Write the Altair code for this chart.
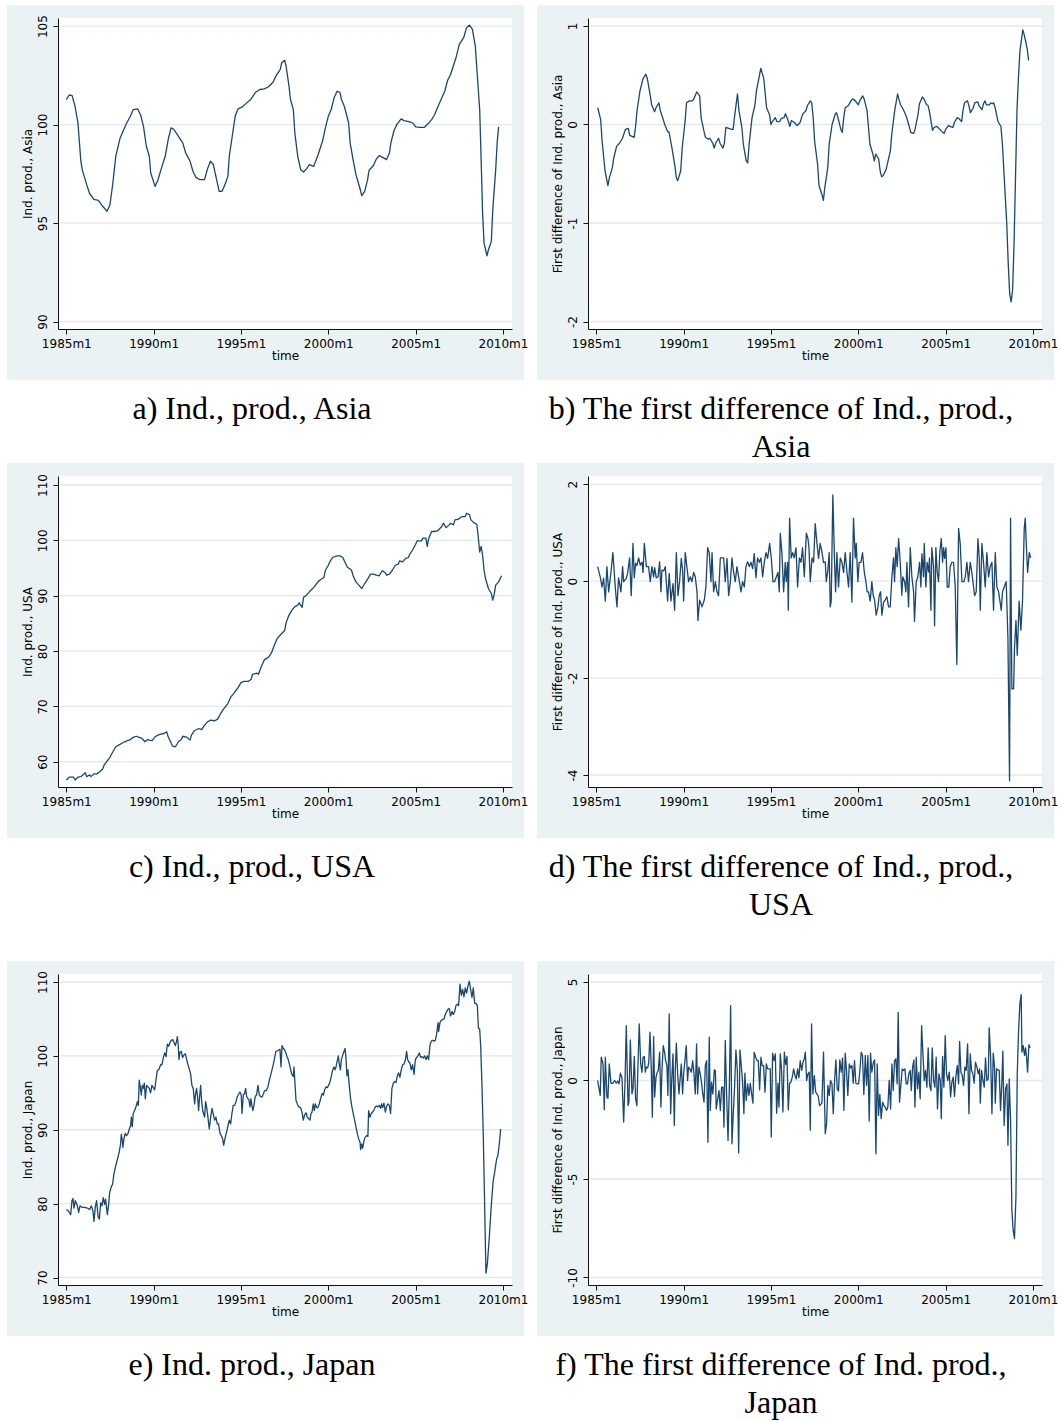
import altair as alt
import pandas as pd

# ---------------------------------------------------------------------------
# Monthly series, month index 0 = 1985m1  (pairs of month, value)
# ---------------------------------------------------------------------------
asia_level = [
    (0, 101.27), (2, 101.5), (4, 101.47), (6, 100.93), (8, 100.08), (10, 98.14), (11, 97.7),
    (14, 96.95), (16, 96.5), (19, 96.2), (22, 96.15), (25, 95.85), (28, 95.6), (30, 95.93),
    (32, 97.03), (34, 98.4), (37, 99.32), (39, 99.66), (41, 100.0), (44, 100.42), (46, 100.76),
    (49, 100.8), (51, 100.5), (53, 99.92), (55, 98.9), (57, 98.4), (58, 97.54), (61, 96.86),
    (63, 97.2), (65, 97.7), (68, 98.4), (70, 99.24), (72, 99.83), (74, 99.75), (77, 99.4),
    (80, 99.07), (82, 98.56), (85, 98.14), (87, 97.63), (89, 97.32), (92, 97.2), (95, 97.2),
    (97, 97.75), (99, 98.14), (101, 97.97), (103, 97.29), (105, 96.61), (107, 96.61),
    (109, 96.95), (111, 97.37), (112, 98.4), (114, 99.4), (116, 100.42), (118, 100.8),
    (121, 100.9), (124, 101.1), (127, 101.3), (130, 101.64), (133, 101.78), (136, 101.81),
    (139, 101.92), (142, 102.15), (144, 102.46), (147, 102.8), (148, 103.14), (150, 103.27),
    (151, 102.97), (153, 101.95), (154, 101.27), (156, 100.76), (157, 99.58), (159, 98.39),
    (161, 97.71), (163, 97.59), (165, 97.75), (167, 97.97), (170, 97.88), (171, 98.08),
    (173, 98.47), (176, 99.15), (178, 99.83), (180, 100.42), (182, 100.76), (184, 101.36),
    (186, 101.69), (188, 101.64), (189, 101.27), (191, 100.93), (194, 100.08), (195, 99.07),
    (197, 98.22), (199, 97.46), (200, 97.2), (202, 96.69), (203, 96.39), (205, 96.61),
    (207, 97.2), (208, 97.68), (211, 97.92), (213, 98.25), (215, 98.42), (218, 98.31),
    (220, 98.22), (222, 98.56), (223, 99.07), (225, 99.66), (227, 100.0), (230, 100.29),
    (232, 100.2), (236, 100.14), (238, 100.08), (240, 99.88), (243, 99.86), (246, 99.86),
    (249, 100.08), (251, 100.25), (253, 100.5), (255, 100.85), (258, 101.36), (260, 101.69),
    (262, 102.25), (264, 102.54), (266, 103.0), (268, 103.47), (270, 104.07), (273, 104.41),
    (275, 104.92), (277, 105.05), (279, 104.83), (281, 103.98), (282, 102.88), (284, 100.76),
    (285, 98.22), (286, 95.5), (287, 93.98), (289, 93.34), (290, 93.64), (292, 94.07),
    (293, 95.68), (295, 97.71), (296, 99.07), (297, 99.88),
]

asia_diff = [
    (1, 0.17), (3, 0.05), (4, -0.17), (6, -0.47), (8, -0.62), (9, -0.54), (11, -0.44), (12, -0.34),
    (14, -0.22), (16, -0.19), (18, -0.14), (20, -0.05), (22, -0.04), (23, -0.11), (26, -0.13),
    (27, -0.02), (28, 0.14), (30, 0.34), (32, 0.46), (34, 0.51), (35, 0.47), (37, 0.30),
    (38, 0.20), (40, 0.13), (41, 0.17), (43, 0.22), (44, 0.14), (46, 0.05), (47, 0.0),
    (49, -0.07), (50, -0.08), (52, -0.24), (54, -0.42), (55, -0.54), (56, -0.57), (58, -0.47),
    (59, -0.24), (61, 0.03), (62, 0.22), (64, 0.24), (66, 0.24), (67, 0.26), (69, 0.33),
    (71, 0.29), (72, 0.07), (74, -0.07), (75, -0.13), (77, -0.15), (78, -0.14), (80, -0.19),
    (81, -0.24), (82, -0.19), (84, -0.14), (85, -0.19), (87, -0.24), (88, -0.19), (89, -0.03),
    (91, -0.04), (93, -0.05), (94, -0.05), (95, 0.08), (97, 0.31), (98, 0.14), (100, -0.03),
    (101, -0.20), (103, -0.37), (104, -0.39), (105, -0.20), (107, 0.07), (109, 0.20),
    (110, 0.34), (112, 0.49), (113, 0.57), (115, 0.47), (116, 0.32), (117, 0.17), (119, 0.10),
    (120, 0.0), (121, 0.03), (123, 0.07), (124, 0.03), (126, 0.03), (127, 0.06), (129, 0.07),
    (130, 0.11), (132, 0.03), (133, -0.02), (134, 0.04), (136, 0.02), (138, -0.01), (140, 0.02),
    (141, 0.07), (142, 0.11), (144, 0.14), (145, 0.19), (147, 0.24), (148, 0.22), (149, 0.07),
    (150, -0.17), (152, -0.40), (153, -0.62), (155, -0.71), (156, -0.77), (157, -0.64),
    (159, -0.44), (160, -0.20), (162, 0.0), (164, 0.10), (165, 0.12), (166, 0.07), (168, -0.05),
    (169, -0.08), (170, 0.07), (171, 0.17), (173, 0.19), (175, 0.24), (176, 0.26), (178, 0.24),
    (180, 0.20), (181, 0.24), (183, 0.29), (184, 0.26), (186, 0.14), (187, -0.03), (188, -0.20),
    (190, -0.30), (191, -0.37), (192, -0.30), (194, -0.35), (195, -0.47), (196, -0.53),
    (197, -0.52), (199, -0.46), (200, -0.40), (202, -0.27), (203, -0.10), (205, 0.14),
    (207, 0.31), (208, 0.25), (209, 0.20), (211, 0.15), (213, 0.08), (214, 0.03), (215, -0.02),
    (216, -0.08), (218, -0.09), (219, -0.05), (221, 0.10), (222, 0.21), (224, 0.28), (225, 0.26),
    (227, 0.20), (228, 0.19), (229, 0.12), (231, -0.06), (232, -0.03), (234, -0.02), (236, -0.05),
    (238, -0.08), (239, -0.09), (240, -0.05), (242, -0.01), (243, -0.02), (245, -0.03),
    (246, 0.02), (248, 0.07), (249, 0.06), (251, 0.03), (252, 0.15), (253, 0.22), (255, 0.24),
    (256, 0.19), (257, 0.12), (259, 0.17), (260, 0.22), (262, 0.23), (263, 0.19), (265, 0.15),
    (266, 0.21), (267, 0.24), (268, 0.20), (270, 0.20), (271, 0.22), (272, 0.21), (273, 0.22),
    (274, 0.17), (275, 0.10), (276, 0.03), (278, -0.02), (279, -0.20), (280, -0.47), (281, -0.74),
    (282, -1.01), (283, -1.41), (284, -1.72), (285, -1.80), (286, -1.68), (287, -1.21),
    (288, -0.54), (289, 0.14), (290, 0.47), (291, 0.74), (293, 0.96), (294, 0.91), (295, 0.84),
    (296, 0.77), (297, 0.65),
]

usa_level = [
    (0, 56.7), (2, 57.2), (5, 57.2), (6, 56.7), (8, 57.2), (10, 57.3), (13, 58.0), (14, 57.3),
    (16, 57.6), (17, 57.3), (19, 57.8), (21, 57.8), (23, 58.2), (25, 58.7), (26, 59.4), (28, 60.1),
    (30, 60.8), (32, 61.8), (34, 62.7), (36, 63.0), (38, 63.3), (40, 63.6), (42, 63.8), (44, 64.0),
    (46, 64.4), (48, 64.6), (50, 64.4), (52, 64.2), (54, 63.6), (56, 64.0), (57, 63.9), (59, 63.8),
    (61, 64.5), (63, 64.8), (65, 65.0), (67, 65.1), (69, 65.4), (70, 64.5), (72, 63.4), (73, 62.8),
    (75, 62.7), (77, 63.6), (79, 64.0), (80, 64.6), (83, 64.4), (85, 63.9), (86, 64.8), (88, 65.6),
    (91, 66.0), (93, 65.8), (95, 66.6), (97, 67.2), (99, 67.5), (102, 67.4), (104, 67.7),
    (106, 68.7), (108, 69.5), (111, 70.5), (113, 71.7), (115, 72.3), (118, 73.4), (120, 74.3),
    (122, 74.5), (125, 74.5), (127, 74.9), (128, 75.8), (131, 76.0), (132, 75.8), (134, 77.2),
    (136, 78.4), (139, 78.9), (141, 79.7), (143, 81.1), (145, 82.3), (147, 82.9), (150, 83.7),
    (151, 85.1), (153, 86.5), (155, 87.4), (157, 88.0), (159, 88.3), (160, 88.7), (162, 87.9),
    (163, 89.7), (165, 90.1), (167, 90.7), (170, 91.5), (172, 92.2), (174, 92.8), (177, 93.3),
    (178, 94.6), (180, 95.5), (181, 96.1), (183, 96.9), (186, 97.2), (188, 97.2), (190, 96.9),
    (191, 96.3), (193, 95.2), (196, 94.6), (197, 93.6), (199, 92.5), (202, 91.6), (203, 91.3),
    (205, 92.2), (207, 93.0), (209, 93.9), (211, 93.9), (213, 93.7), (215, 93.6), (217, 94.5),
    (219, 94.2), (220, 93.7), (222, 93.9), (224, 94.6), (226, 95.5), (228, 95.7), (229, 96.3),
    (231, 96.1), (233, 96.7), (235, 96.9), (236, 97.5), (238, 98.3), (240, 99.3), (241, 99.9),
    (244, 99.9), (245, 100.4), (247, 100.4), (248, 98.9), (249, 100.4), (251, 101.6),
    (253, 101.6), (255, 101.7), (258, 102.5), (259, 103.1), (261, 102.3), (263, 102.8),
    (264, 103.1), (266, 102.8), (267, 103.7), (269, 103.8), (272, 104.3), (274, 104.3),
    (275, 104.9), (277, 104.6), (278, 103.7), (280, 103.2), (282, 102.9), (283, 100.7),
    (284, 97.9), (285, 98.9), (286, 97.3), (287, 94.6), (288, 93.1), (290, 91.3), (292, 90.4),
    (293, 89.2), (294, 90.3), (295, 91.9), (297, 92.5), (299, 93.6),
]

usa_diff = [
    (0.9, 0.30), (2.7, 0.09), (3.9, -0.12), (5.0, 0.06), (6.2, -0.41), (7.3, 0.30), (8.5, -0.22),
    (10.1, 0.19), (11.4, 0.59), (13.1, -0.15), (14.2, -0.53), (15.3, 0.07), (16.9, -0.22),
    (18.1, 0.30), (18.8, -0.01), (20.6, 0.06), (21.5, 0.16), (22.9, 0.48), (24.0, -0.30),
    (25.2, 0.78), (26.1, 0.07), (27.0, 0.37), (27.9, 0.32), (29.1, 0.48), (30.2, 0.33),
    (31.4, 0.39), (32.1, 0.18), (33.0, 0.78), (34.4, 0.30), (35.9, 0.30), (37.1, -0.01),
    (38.2, 0.30), (39.4, 0.09), (40.1, 0.28), (41.2, 0.07), (42.4, 0.09), (43.5, 0.40),
    (44.4, -0.22), (45.1, 0.23), (46.3, 0.21), (47.4, 0.30), (49.0, -0.41), (50.1, 0.16),
    (51.3, -0.41), (52.7, -0.05), (53.8, -0.60), (55.0, 0.59), (56.1, -0.30), (57.2, -0.01),
    (58.4, 0.47), (59.3, 0.23), (60.0, -0.41), (61.1, 0.59), (62.3, 0.28), (63.4, -0.01),
    (64.6, 0.09), (65.7, -0.01), (66.9, 0.18), (68.0, 0.09), (69.2, -0.22), (69.8, -0.81),
    (71.0, -0.39), (72.6, -0.53), (74.2, -0.39), (75.3, -0.12), (76.5, 0.69), (77.6, 0.59),
    (78.8, -0.01), (79.5, 0.59), (80.6, -0.22), (81.8, -0.01), (82.9, -0.22), (84.0, -0.30),
    (85.2, 0.48), (86.3, 0.48), (87.5, 0.48), (88.6, -0.01), (89.8, 0.47), (90.9, -0.30),
    (92.1, -0.01), (93.2, 0.48), (94.3, 0.19), (95.5, -0.01), (96.6, 0.30), (97.8, 0.09),
    (99.4, -0.22), (100.5, -0.01), (101.7, -0.12), (102.8, 0.30), (104.0, 0.40), (105.1, 0.30),
    (106.3, 0.39), (107.4, 0.26), (108.5, 0.57), (109.7, 0.07), (110.8, 0.48), (112.0, 0.39),
    (113.1, 0.48), (114.3, 0.09), (115.4, 0.39), (116.6, 0.59), (117.7, 0.47), (119.1, 0.78),
    (120.2, 0.48), (121.4, -0.01), (122.5, -0.01), (123.7, 0.09), (124.8, 0.18), (125.7, -0.22),
    (126.4, 0.99), (127.5, 0.59), (128.7, -0.22), (129.8, 0.39), (130.5, -0.01), (131.4, 0.39),
    (131.9, -0.60), (132.8, 1.30), (133.9, 0.48), (134.9, 0.59), (136.0, 0.48), (137.2, 0.69),
    (138.3, -0.12), (139.5, 0.48), (140.6, 0.39), (141.7, 0.69), (142.9, 0.09), (144.3, 0.99),
    (145.4, 0.88), (146.1, 0.69), (147.0, -0.01), (148.2, 0.48), (149.3, 0.39), (150.4, 1.19),
    (151.6, 0.78), (152.7, 0.47), (153.8, 0.78), (155.0, 0.61), (156.1, 0.39), (157.3, 0.40),
    (158.0, -0.01), (159.1, 0.23), (160.0, 0.59), (160.7, -0.53), (161.4, -0.41), (162.5, 1.78),
    (163.7, 0.39), (164.4, -0.22), (165.3, 0.59), (166.4, -0.12), (167.6, 0.48), (168.7, 0.39),
    (169.9, 0.18), (171.0, 0.59), (172.2, 0.19), (173.3, -0.12), (174.4, 0.59), (175.6, -0.43),
    (176.7, 1.30), (177.9, 0.48), (178.6, 0.78), (179.7, -0.01), (180.6, 0.39), (181.8, 0.39),
    (182.9, 0.59), (184.1, 0.19), (185.2, -0.01), (186.1, -0.22), (187.0, -0.22), (188.2, -0.41),
    (189.3, -0.01), (190.2, -0.29), (191.2, -0.39), (192.3, -0.70), (193.5, -0.53), (194.4, -0.29),
    (195.3, -0.22), (196.2, -0.70), (197.4, -0.43), (198.5, -0.39), (199.6, -0.32), (200.8, -0.53),
    (201.9, -0.53), (203.1, 0.09), (204.2, 0.48), (204.9, -0.01), (205.8, 0.69), (206.7, 0.30),
    (207.7, 0.88), (208.8, 0.39), (209.9, -0.29), (210.6, 0.09), (211.8, -0.01), (212.7, -0.22),
    (213.4, 0.39), (214.5, -0.53), (215.7, 0.69), (216.8, 0.09), (218.0, -0.22), (218.6, -0.83),
    (219.8, -0.01), (220.9, 0.09), (222.1, 0.39), (223.0, -0.12), (223.7, 0.57), (224.8, 0.09),
    (225.3, 0.78), (226.4, -0.12), (227.3, 0.39), (228.3, 0.19), (228.9, 0.48), (229.9, -0.60),
    (230.5, 0.69), (231.7, 0.30), (232.4, -0.92), (233.3, 0.69), (234.2, 0.19), (235.1, -0.01),
    (236.0, 0.59), (237.0, 0.88), (237.9, 0.39), (238.6, 0.69), (239.3, 0.47), (240.2, 0.69),
    (241.1, -0.12), (242.2, -0.12), (243.1, 0.30), (244.3, 0.39), (245.4, 0.39), (246.6, -0.12),
    (247.7, -1.72), (248.9, 1.09), (250.0, 0.78), (251.2, -0.01), (252.5, -0.01), (253.5, 0.09),
    (254.6, 0.39), (255.7, -0.01), (256.9, 0.39), (258.0, 0.18), (259.2, -0.12), (259.9, -0.30),
    (261.0, -0.22), (262.2, 0.88), (263.1, 0.48), (263.8, -0.60), (264.9, 0.78), (266.0, 0.39),
    (267.2, -0.12), (268.3, 0.59), (269.5, 0.09), (270.6, 0.30), (271.8, 0.39), (272.9, -0.60),
    (274.1, 0.59), (275.2, -0.12), (276.4, -0.22), (278.2, -0.60), (279.1, -0.22), (280.2, -0.12),
    (281.6, -0.01), (282.8, -1.19), (283.9, -4.12), (284.6, 1.30), (285.5, -2.22), (286.7, -2.22),
    (287.3, -1.39), (288.3, -0.81), (289.2, -1.53), (290.5, -0.41), (291.7, -1.01), (292.8, -0.41),
    (294.0, 1.09), (294.7, 1.30), (295.4, 0.78), (296.3, 0.18), (297.5, 0.59), (298.4, 0.48),
]

japan_level = [
    (0.0, 79.2), (1.1, 79.1), (3.0, 78.5), (3.9, 80.4), (4.6, 80.7), (5.3, 79.4), (6.2, 80.4),
    (7.6, 79.7), (8.5, 78.8), (9.4, 79.7), (10.8, 79.5), (12.6, 79.5), (14.4, 79.4), (16.0, 79.2),
    (17.2, 79.7), (18.3, 79.0), (19.0, 77.6), (19.9, 79.5), (20.8, 80.4), (21.8, 78.3),
    (22.7, 77.9), (23.6, 80.1), (24.5, 79.7), (25.4, 80.8), (26.3, 79.9), (27.0, 80.6),
    (28.2, 78.5), (29.1, 79.9), (29.8, 81.5), (30.9, 82.3), (31.8, 82.6), (32.7, 84.0),
    (33.7, 84.9), (34.6, 85.6), (35.5, 86.3), (36.4, 87.0), (37.3, 88.1), (37.8, 89.4),
    (38.5, 88.5), (38.9, 87.6), (39.6, 88.8), (40.5, 89.5), (41.4, 89.2), (42.4, 89.5),
    (43.3, 90.1), (44.2, 90.6), (44.7, 91.7), (45.3, 90.4), (46.0, 92.2), (46.9, 92.6),
    (47.9, 93.1), (48.8, 93.8), (49.5, 93.3), (50.1, 96.7), (50.8, 95.8), (51.5, 94.7),
    (52.2, 96.0), (52.9, 95.6), (53.6, 96.3), (54.3, 94.2), (55.2, 96.0), (56.1, 95.8),
    (57.0, 95.6), (57.9, 95.0), (58.8, 96.0), (59.8, 95.7), (60.7, 95.4), (61.6, 96.7),
    (62.5, 98.0), (63.7, 98.2), (64.8, 98.8), (65.7, 98.8), (66.6, 99.7), (67.6, 100.4),
    (68.5, 99.9), (69.4, 101.6), (70.3, 101.3), (71.2, 101.8), (72.1, 102.1), (73.1, 102.2),
    (74.0, 101.8), (74.9, 101.4), (75.8, 102.0), (76.3, 102.6), (76.9, 101.5), (77.4, 99.5),
    (78.1, 100.5), (79.0, 100.6), (79.9, 99.8), (80.8, 100.1), (81.8, 100.3), (82.7, 99.5),
    (83.6, 98.8), (84.5, 98.2), (85.4, 97.6), (86.3, 96.0), (87.2, 95.6), (88.2, 93.5),
    (88.8, 94.8), (89.5, 95.6), (90.2, 94.5), (90.9, 92.6), (91.6, 94.5), (92.3, 96.0),
    (93.0, 93.8), (93.7, 92.6), (94.3, 92.2), (95.0, 91.7), (95.7, 93.8), (96.4, 93.1),
    (97.3, 91.7), (98.2, 90.1), (99.2, 91.7), (100.1, 92.9), (101.0, 92.1), (101.9, 91.3),
    (102.8, 91.7), (103.7, 90.8), (104.6, 90.8), (105.6, 89.5), (106.5, 89.2), (107.4, 88.8),
    (108.1, 87.9), (108.8, 88.6), (109.5, 89.2), (110.4, 89.9), (111.1, 90.6), (112.0, 91.3),
    (112.9, 90.8), (113.8, 92.2), (114.7, 93.3), (115.6, 93.3), (116.6, 93.8), (117.5, 94.5),
    (118.4, 94.8), (119.3, 95.1), (120.2, 94.7), (120.7, 92.2), (121.6, 94.7), (122.5, 94.9),
    (123.2, 95.6), (123.9, 94.5), (124.8, 94.2), (125.5, 94.0), (126.2, 93.1), (126.8, 94.2),
    (127.5, 93.3), (128.2, 92.6), (128.9, 93.3), (129.8, 94.5), (130.7, 94.7), (131.7, 96.0),
    (132.6, 94.7), (133.5, 94.5), (134.4, 94.4), (135.3, 94.8), (136.2, 95.3), (137.4, 95.3),
    (138.5, 95.8), (139.5, 96.7), (140.4, 97.4), (141.3, 98.1), (142.2, 98.8), (143.1, 99.7),
    (144.0, 100.6), (145.0, 100.7), (145.9, 100.8), (146.8, 100.9), (147.5, 98.5), (148.2, 101.4),
    (149.1, 101.0), (150.0, 100.8), (150.9, 100.4), (151.8, 99.8), (152.5, 99.5), (153.7, 98.5),
    (154.8, 97.6), (156.0, 97.2), (156.4, 98.5), (157.1, 96.3), (157.8, 94.0), (158.7, 93.5),
    (159.6, 93.1), (161.0, 93.0), (162.1, 92.2), (162.8, 91.3), (163.7, 92.0), (164.7, 92.3),
    (165.6, 91.7), (166.5, 91.5), (167.4, 91.3), (168.1, 92.2), (168.8, 92.4), (169.7, 93.5),
    (170.4, 92.6), (171.1, 93.5), (172.0, 93.0), (172.9, 93.0), (173.8, 93.5), (174.7, 94.2),
    (175.7, 94.9), (176.6, 94.7), (177.5, 95.4), (178.4, 95.8), (179.3, 95.7), (180.2, 96.0),
    (181.2, 96.5), (182.1, 97.3), (183.0, 98.1), (183.9, 98.5), (184.6, 98.1), (185.3, 98.5),
    (186.2, 99.4), (186.9, 100.0), (187.6, 98.8), (188.3, 98.1), (189.0, 99.5), (189.9, 100.1),
    (190.8, 100.6), (191.5, 101.0), (192.1, 99.8), (192.8, 97.3), (193.5, 98.1), (194.4, 96.0),
    (195.3, 94.2), (196.2, 93.1), (197.1, 92.2), (198.1, 91.3), (199.0, 90.4), (199.9, 89.5),
    (200.8, 88.8), (201.8, 88.3), (202.2, 87.3), (202.9, 88.1), (203.6, 87.5), (204.5, 88.5),
    (205.4, 89.0), (206.3, 89.2), (207.2, 89.1), (207.7, 92.6), (208.6, 91.7), (209.5, 92.2),
    (210.5, 92.4), (211.4, 92.7), (212.3, 93.1), (213.2, 93.2), (214.1, 93.1), (215.0, 93.3),
    (215.9, 92.9), (216.6, 93.5), (217.3, 93.0), (218.2, 93.6), (219.2, 92.4), (220.1, 93.2),
    (221.0, 93.5), (221.9, 93.3), (222.8, 92.2), (223.7, 95.6), (224.7, 96.3), (225.6, 96.5),
    (226.5, 96.4), (227.4, 97.3), (228.3, 97.7), (229.2, 97.1), (230.2, 98.2), (231.1, 98.8),
    (232.0, 98.9), (232.9, 99.4), (233.8, 100.6), (234.5, 99.5), (235.2, 99.2), (236.1, 99.0),
    (237.0, 98.1), (237.9, 98.8), (238.9, 97.5), (239.8, 99.5), (240.7, 99.8), (241.6, 100.0),
    (242.5, 100.4), (243.4, 99.8), (244.4, 99.9), (245.3, 99.7), (246.2, 100.0), (247.1, 99.5),
    (248.0, 100.0), (248.9, 99.5), (249.9, 101.5), (250.8, 102.0), (251.7, 102.1), (252.6, 102.0),
    (253.5, 102.1), (254.4, 102.9), (255.4, 104.5), (255.8, 103.3), (256.7, 104.5), (257.6, 104.8),
    (258.5, 104.9), (259.5, 105.0), (260.4, 105.6), (261.3, 106.0), (262.2, 106.3), (263.1, 106.4),
    (264.0, 105.4), (265.0, 106.0), (265.9, 105.6), (266.8, 106.0), (267.7, 106.8), (268.6, 107.0),
    (269.5, 106.8), (270.5, 109.7), (271.4, 108.2), (272.3, 109.0), (273.2, 108.0), (274.1, 109.2),
    (275.0, 108.5), (276.0, 109.5), (276.9, 110.1), (277.8, 109.0), (278.7, 107.9), (279.6, 109.2),
    (280.6, 107.1), (281.5, 107.1), (282.4, 106.8), (283.1, 103.8), (284.0, 103.6), (284.7, 101.3),
    (285.6, 95.8), (286.5, 89.0), (287.4, 79.9), (288.3, 70.6), (289.2, 71.7), (290.6, 75.4),
    (292.0, 79.9), (293.3, 83.1), (294.5, 84.5), (295.6, 86.0), (296.5, 86.5), (297.5, 88.1),
    (298.4, 90.1),
]

japan_diff = [
    (0.9, 0.0), (2.7, -0.76), (3.4, 1.18), (4.6, 0.84), (5.5, -1.49), (6.2, 1.18), (7.3, -0.84),
    (8.0, -0.9), (8.9, 0.84), (10.1, -0.14), (11.4, -0.14), (12.6, 0.0), (13.7, -0.14),
    (14.7, -0.03), (15.6, -0.17), (16.5, 0.37), (17.6, 0.17), (18.8, -2.11), (19.7, -0.17),
    (20.6, 2.79), (21.8, -1.27), (22.4, -1.1), (23.4, 2.06), (24.5, -0.68), (25.2, -0.42),
    (26.1, 1.22), (27.0, -0.93), (27.9, -1.27), (28.6, 0.68), (29.5, 2.87), (30.5, 0.84),
    (31.4, 0.42), (32.1, 1.18), (33.0, 1.22), (33.7, 0.42), (34.3, 0.68), (35.3, 0.64),
    (36.0, 0.88), (36.9, 2.45), (37.8, 0.51), (38.5, -1.86), (39.4, 2.23), (40.1, -0.84),
    (41.0, 0.17), (41.9, 0.42), (42.6, 0.51), (43.5, 1.44), (44.4, -1.35), (45.1, 0.51),
    (46.0, 1.77), (47.0, 1.39), (47.6, 1.01), (48.5, 0.76), (49.2, -0.76), (50.1, 3.38),
    (51.1, -1.69), (51.8, 0.0), (52.7, 1.35), (53.6, -2.28), (54.3, 0.59), (55.0, 1.89),
    (55.9, 0.34), (56.8, -0.68), (57.5, 0.0), (58.4, 0.84), (59.3, -0.68), (60.0, 0.34),
    (60.9, 1.01), (61.8, 1.77), (62.7, 0.0), (63.4, 0.68), (64.3, 0.59), (65.3, 0.42),
    (66.2, 1.01), (67.1, 0.34), (68.0, -0.68), (68.9, 1.86), (69.6, -0.68), (70.5, 0.68),
    (71.4, 0.34), (72.4, -0.17), (73.0, -0.59), (74.0, -1.1), (74.9, 0.76), (75.8, 1.01),
    (76.7, -3.13), (77.6, 2.2), (78.3, -1.52), (79.2, -0.08), (80.1, -0.68), (81.1, 0.54),
    (81.8, 0.51), (82.4, -1.44), (83.4, -0.93), (84.3, -0.51), (85.2, -1.52), (86.1, -0.34),
    (87.0, -0.34), (87.7, -2.36), (88.6, 2.03), (89.5, -0.68), (90.5, -3.04), (91.4, -0.34),
    (92.3, 3.8), (93.2, -3.21), (94.1, -1.69), (95.0, -0.34), (95.9, 1.55), (96.9, 0.51),
    (97.8, -3.68), (98.7, 1.55), (99.6, 0.76), (100.5, -0.08), (101.4, -1.69), (102.1, 0.37),
    (103.0, -1.01), (104.0, -0.17), (104.9, -0.76), (105.8, -0.14), (106.7, -0.68), (107.6, -1.15),
    (108.5, 1.44), (109.5, 1.18), (110.4, 1.01), (111.3, 1.01), (112.2, -0.47), (113.1, 1.18),
    (114.0, 0.76), (114.9, 0.76), (115.9, -0.59), (116.8, 0.84), (117.7, 0.59), (118.6, 0.59),
    (119.5, 0.59), (120.2, -2.87), (121.1, 1.39), (122.1, 1.01), (123.0, 1.35), (123.9, -1.66),
    (124.8, -0.14), (125.5, -1.35), (126.4, 1.35), (127.3, 0.51), (128.2, -1.6), (129.2, 1.44),
    (130.1, 0.81), (131.0, 1.22), (131.9, -1.49), (132.8, -0.14), (133.7, -0.08), (134.6, 0.17),
    (135.6, 0.59), (136.5, 0.25), (137.4, 0.08), (138.3, 0.59), (139.2, 0.14), (140.1, 1.01),
    (141.1, 0.51), (142.0, 0.93), (142.9, 1.1), (143.6, 1.44), (144.5, 0.0), (145.4, 0.34),
    (146.3, 0.42), (147.0, -2.53), (147.9, 2.87), (148.8, -0.68), (149.8, 0.25), (150.7, -0.59),
    (151.6, -0.68), (152.5, -0.81), (153.4, -1.27), (155.0, -1.15), (156.1, 1.44), (157.3, -2.7),
    (158.2, -2.2), (159.1, -0.25), (160.0, -0.76), (160.9, 0.0), (161.9, -0.17), (162.8, -1.69),
    (163.7, 0.0), (164.6, 1.05), (165.5, -0.42), (166.4, -0.54), (167.3, 1.05), (168.3, 0.42),
    (169.2, 1.15), (170.1, -1.52), (171.0, 1.39), (171.9, 0.51), (172.8, -0.76), (173.8, 0.84),
    (174.7, 0.64), (175.6, 0.76), (176.5, -0.14), (177.4, 1.01), (178.3, -0.14), (179.3, -0.17),
    (180.2, -0.17), (181.1, 0.51), (182.0, 1.44), (182.9, 1.27), (183.8, -0.71), (184.8, 1.27),
    (185.7, -0.25), (186.6, 1.27), (187.5, -2.06), (188.4, 1.39), (189.3, 0.42), (190.2, 0.88),
    (191.2, 1.05), (192.1, -3.72), (193.0, 0.84), (193.9, -1.77), (194.8, -0.71), (195.7, -1.94),
    (196.7, -1.1), (197.6, -1.27), (198.5, -1.35), (199.4, -1.52), (200.3, -1.35), (201.2, 0.0),
    (202.2, -1.44), (203.1, 0.84), (204.0, -0.51), (204.9, 1.01), (205.8, 1.1), (206.7, -0.17),
    (207.4, 3.46), (208.3, -1.1), (209.3, -0.17), (210.2, 0.59), (211.1, 0.51), (212.0, 0.59),
    (212.9, -0.17), (213.8, -0.17), (214.7, 0.34), (215.7, 0.51), (216.4, -0.51), (217.3, 0.68),
    (218.2, 1.05), (218.9, -1.35), (219.8, 1.18), (220.7, -0.42), (221.6, 0.42), (222.5, -0.93),
    (223.5, 2.79), (224.4, 1.35), (225.3, 0.0), (226.2, 0.51), (227.1, -0.34), (228.0, 1.66),
    (229.0, -0.25), (229.9, -0.51), (230.8, 1.66), (231.7, 0.0), (232.6, -0.34), (233.5, 1.18),
    (234.4, -1.44), (235.4, 0.34), (236.3, 0.0), (237.0, -1.94), (237.9, 1.22), (238.8, -0.34),
    (239.7, 2.28), (240.6, 0.34), (241.5, 0.0), (242.5, 0.42), (243.4, -0.84), (244.3, -0.08),
    (245.2, 0.17), (246.1, -0.81), (247.0, 0.2), (248.0, 0.76), (248.9, -0.17), (249.6, 1.99),
    (250.5, 0.42), (251.4, 0.25), (252.3, -0.25), (253.2, 0.68), (254.1, 0.51), (255.1, 1.86),
    (256.0, -1.69), (256.9, 1.35), (257.8, 0.51), (258.7, 0.34), (259.6, -0.14), (260.5, 0.93),
    (261.5, 0.68), (262.4, 0.34), (263.3, 0.59), (263.8, -1.15), (264.7, 0.51), (265.6, 0.0),
    (266.5, -0.34), (267.4, 1.15), (268.3, 0.0), (269.3, 0.08), (269.9, 2.67), (270.9, 1.22),
    (271.8, -1.69), (272.7, 1.39), (273.6, 0.68), (274.1, -1.15), (275.0, 0.59), (275.9, 0.54),
    (276.8, 0.51), (277.7, -1.52), (278.6, -0.17), (279.3, 1.49), (280.2, -2.28), (281.2, -0.42),
    (282.1, -0.17), (282.8, -3.29), (283.7, 0.08), (284.6, -2.03), (285.5, -6.59), (286.4, -7.6),
    (287.3, -8.02), (288.3, -5.91), (289.2, 0.34), (290.1, 2.53), (291.0, 3.89), (291.9, 4.36),
    (292.4, 1.44), (293.3, 1.77), (294.2, 1.27), (294.9, 1.66), (295.6, 1.18), (296.3, 0.42),
    (297.2, 1.82), (298.1, 1.66),
]

# Axis ticks
year_ticks = [0, 60, 120, 180, 240, 300]          # 1985m1 ... 2010m1
asia_ticks = [90, 95, 100, 105]
asia_diff_ticks = [-2, -1, 0, 1]
usa_ticks = [60, 70, 80, 90, 100, 110]
usa_diff_ticks = [-4, -2, 0, 2]
japan_ticks = [70, 80, 90, 100, 110]
japan_diff_ticks = [-10, -5, 0, 5]

# ---------------------------------------------------------------------------
# Styling and layout
# ---------------------------------------------------------------------------
NAVY = "#1A476F"
PANEL_BG = "#EAF2F3"
GRID = "#E2EAEC"
SANS = "DejaVu Sans"
SERIF = "Liberation Serif"

W, H = 454, 311                      # plot region of every panel
X_DOMAIN = [-5.7, 306.2]
COL_W = 531
COL_LEFT = [0, 531]
PLOT_LEFT = [58, 588]
CELL_TOP = [0, 463, 961]
CELL_BOTTOM = [463, 961, 1421]
PANEL_TOP = [5, 463, 961]
CAPTION_X = [252, 781]


def x_axis():
    return alt.Axis(
        values=year_ticks, labelExpr="floor(1985 + datum.value / 12) + 'm1'",
        title="time", grid=False, zindex=1,
        domainColor="#111111", domainWidth=1, tickColor="#111111", tickWidth=1, tickSize=5,
        labelFont=SANS, labelFontSize=12, labelColor="#000000", labelPadding=4,
        labelFlush=False, labelOverlap=False,
        titleFont=SANS, titleFontSize=12, titleFontWeight="normal", titleColor="#000000",
        titleY=26, titleBaseline="middle",
    )


def y_axis(ticks, title):
    return alt.Axis(
        values=ticks, labelExpr="'' + datum.value", title=title, grid=False, zindex=1,
        domainColor="#111111", domainWidth=1, tickColor="#111111", tickWidth=1, tickSize=5,
        labelFont=SANS, labelFontSize=12, labelColor="#000000", labelPadding=7,
        labelAngle=270, labelAlign="center", labelBaseline="alphabetic",
        labelFlush=False, labelOverlap=False,
        titleFont=SANS, titleFontSize=12, titleFontWeight="normal", titleColor="#000000",
        titleAngle=270, titleX=-31, titleY=H / 2, titleAlign="center", titleBaseline="middle",
    )


def panel(points, ticks, y_domain, y_title, caption, col, row):
    pl, cl = PLOT_LEFT[col], COL_LEFT[col]
    pt = PANEL_TOP[row] + 13
    one = pd.DataFrame({"k": [0]})

    cell = alt.Chart(one).mark_rect(opacity=0).encode(
        x=alt.value(cl - pl), x2=alt.value(cl + COL_W - pl),
        y=alt.value(CELL_TOP[row] - pt), y2=alt.value(CELL_BOTTOM[row] - pt),
    )
    frame = alt.Chart(one).mark_rect(color=PANEL_BG).encode(
        x=alt.value(-51), x2=alt.value(466), y=alt.value(-13), y2=alt.value(362),
    )
    plot_bg = alt.Chart(one).mark_rect(color="white").encode(
        x=alt.value(0), x2=alt.value(W), y=alt.value(0), y2=alt.value(H),
    )
    y_scale = alt.Scale(domain=y_domain, nice=False, zero=False)
    # the same axis definition on both layers so the shared y axis is kept
    grid = alt.Chart(pd.DataFrame({"value": ticks})).mark_rule(
        color=GRID, strokeWidth=1.3
    ).encode(y=alt.Y("value:Q", scale=y_scale, axis=y_axis(ticks, y_title)))

    df = pd.DataFrame(points, columns=["month", "value"])
    df["seq"] = range(len(df))
    line = alt.Chart(df).mark_line(color=NAVY, strokeWidth=1.3, strokeJoin="round").encode(
        x=alt.X("month:Q", scale=alt.Scale(domain=X_DOMAIN, nice=False, zero=False), axis=x_axis()),
        y=alt.Y("value:Q", scale=y_scale, axis=y_axis(ticks, y_title)),
        order="seq:Q",
    )

    texts = []
    for i, txt in enumerate(caption):
        texts.append(
            alt.Chart(one).mark_text(
                text=txt, font=SERIF, fontSize=32, color="#000000",
                align="center", baseline="alphabetic",
            ).encode(
                x=alt.value(CAPTION_X[col] - pl),
                y=alt.value(PANEL_TOP[row] + 413.5 + 38 * i - pt),
            )
        )

    return alt.layer(cell, frame, plot_bg, grid, line, *texts).properties(width=W, height=H)


pa = panel(asia_level, asia_ticks, [89.62, 105.41], "Ind. prod., Asia",
           ["a) Ind., prod., Asia"], 0, 0)
pb = panel(asia_diff, asia_diff_ticks, [-2.076, 1.081], "First difference of Ind. prod., Asia",
           ["b) The first difference of Ind., prod.,", "Asia"], 1, 0)
pc = panel(usa_level, usa_ticks, [55.43, 111.63], "Ind. prod., USA",
           ["c) Ind., prod., USA"], 0, 1)
pd_ = panel(usa_diff, usa_diff_ticks, [-4.248, 2.171], "First difference of Ind. prod., USA",
            ["d) The first difference of Ind., prod.,", "USA"], 1, 1)
pe = panel(japan_level, japan_ticks, [68.985, 111.083], "Ind. prod., Japan",
           ["e) Ind. prod., Japan"], 0, 2)
pf = panel(japan_diff, japan_diff_ticks, [-10.381, 5.406], "First difference of Ind. prod., Japan",
           ["f) The first difference of Ind. prod.,", "Japan"], 1, 2)

chart = alt.vconcat(
    alt.hconcat(pa, pb, spacing=0),
    alt.hconcat(pc, pd_, spacing=0),
    alt.hconcat(pe, pf, spacing=0),
    spacing=0,
).properties(padding=0).configure_view(strokeWidth=0)

chart.save("out.html", embed_options={"renderer": "svg", "actions": False})
